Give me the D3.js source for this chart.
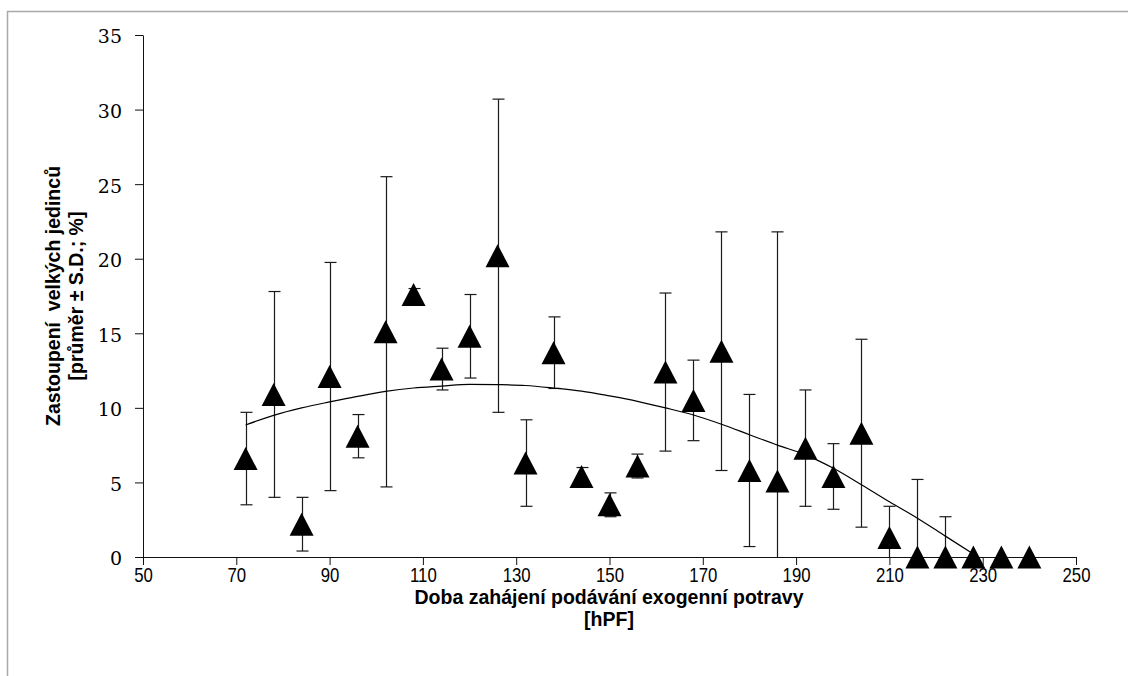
<!DOCTYPE html>
<html>
<head>
<meta charset="utf-8">
<script src="https://cdn.jsdelivr.net/npm/d3@7/dist/d3.min.js"></script>
<style>
  body { margin: 0; background: #ffffff; }
  svg text { fill: #000; }
</style>
</head>
<body>
<svg id="chart" width="1128" height="676"></svg>
<script>
// Time of first exogenous feeding [hPF]
const hours = [72, 78, 84, 90, 96, 102, 108, 114, 120, 126, 132, 138, 144, 150, 156,
               162, 168, 174, 180, 186, 192, 198, 204, 210, 216, 222, 228, 234, 240];
// Share of large individuals, mean [%]
const meanPct = [6.6, 10.9, 2.2, 12.1, 8.1, 15.1, 17.6, 12.6, 14.8, 20.2, 6.3, 13.7, 5.4, 3.5, 6.1,
                 12.4, 10.5, 13.8, 5.8, 5.1, 7.3, 5.4, 8.3, 1.3, 0, 0, 0, 0, 0];
// Standard deviation [%]
const sdPct = [3.1, 6.9, 1.8, 7.65, 1.45, 10.4, 0.4, 1.4, 2.8, 10.5, 2.9, 2.4, 0.6, 0.8, 0.8,
               5.3, 2.7, 8.0, 5.1, 16.7, 3.9, 2.2, 6.3, 2.1, 5.2, 2.7, 0, 0, 0];
// Polynomial trend line
const trendHours = [72, 78, 84, 90, 96, 102, 108, 114, 120, 126, 132, 138, 144, 150, 156,
                    162, 168, 174, 180, 186, 192, 198, 204, 210, 216, 222, 229];
const trendPct = [8.85, 9.5, 10.0, 10.4, 10.77, 11.1, 11.33, 11.46, 11.58, 11.56, 11.5, 11.33, 11.12, 10.8, 10.44,
                  10.0, 9.52, 8.9, 8.2, 7.5, 6.85, 5.95, 4.85, 3.7, 2.6, 1.4, 0];
const xTicks = [50, 70, 90, 110, 130, 150, 170, 190, 210, 230, 250];
const yTicks = [0, 5, 10, 15, 20, 25, 30, 35];

const svg = d3.select("#chart");

// outer frame
svg.append("path")
  .attr("d", "M7.5,676V11.5H1128")
  .attr("fill", "none")
  .attr("stroke", "#a9a9a9")
  .attr("stroke-width", 1.5);

const x = d3.scaleLinear().domain([50, 250]).range([143, 1076]);
const y = d3.scaleLinear().domain([0, 35]).range([557, 35]).clamp(true);

// axes
const xAxis = svg.append("g")
  .attr("transform", "translate(0,557)")
  .call(d3.axisBottom(x).tickValues(xTicks).tickSize(8).tickSizeOuter(0).tickFormat(d3.format("d")));
xAxis.selectAll("text")
  .attr("y", 25).attr("dy", null)
  .attr("transform", "scale(0.84,1)")
  .style("font-family", "'Liberation Sans', Arial, sans-serif")
  .style("font-size", "20px");

const yAxis = svg.append("g")
  .attr("transform", "translate(143,0)")
  .call(d3.axisLeft(y).tickValues(yTicks).tickSize(8).tickSizeOuter(0).tickFormat(d3.format("d")));
yAxis.selectAll("text")
  .attr("x", -21).attr("dy", "0.42em")
  .style("font-family", "'DejaVu Serif', serif")
  .style("font-size", "19px");

svg.selectAll(".domain, .tick line").attr("stroke", "#111").attr("stroke-width", 1);

// axis titles
const titleFont = "'Liberation Sans', Arial, sans-serif";
svg.append("text")
  .attr("x", 609).attr("y", 604)
  .attr("text-anchor", "middle")
  .style("font-family", titleFont).style("font-weight", "bold").style("font-size", "19.5px")
  .text("Doba zahájení podávání exogenní potravy");
svg.append("text")
  .attr("x", 609).attr("y", 626)
  .attr("text-anchor", "middle")
  .style("font-family", titleFont).style("font-weight", "bold").style("font-size", "19.5px")
  .text("[hPF]");

const yTitle = svg.append("text")
  .attr("transform", "translate(60,296) rotate(-90)")
  .attr("text-anchor", "middle")
  .style("font-family", titleFont).style("font-weight", "bold").style("font-size", "19.5px")
  .style("white-space", "pre");
yTitle.append("tspan").attr("x", 0).attr("y", 0).text("Zastoupení  velkých jedinců");
yTitle.append("tspan").attr("x", 0).attr("y", 23).text("[průměr ± S.D.; %]");

const data = hours.map((h, i) => ({ h, m: meanPct[i], sd: sdPct[i] }));

// error bars
const capHalf = 6;
const bars = svg.append("g").attr("stroke", "#1a1a1a").attr("stroke-width", 1.2).attr("fill", "none");
data.filter(d => d.sd > 0).forEach(d => {
  const cx = Math.round(x(d.h)) + 0.5;
  const top = y(d.m + d.sd);
  const bot = y(d.m - d.sd);
  bars.append("line").attr("x1", cx).attr("x2", cx).attr("y1", top).attr("y2", bot);
  bars.append("line").attr("x1", cx - capHalf).attr("x2", cx + capHalf).attr("y1", top).attr("y2", top);
  if (d.m - d.sd >= 0) {
    bars.append("line").attr("x1", cx - capHalf).attr("x2", cx + capHalf).attr("y1", bot).attr("y2", bot);
  }
});

// trend line
const trend = trendHours.map((h, i) => [h, trendPct[i]]);
svg.append("path")
  .datum(trend)
  .attr("fill", "none")
  .attr("stroke", "#000")
  .attr("stroke-width", 1.2)
  .attr("d", d3.line().x(d => x(d[0])).y(d => y(d[1])).curve(d3.curveMonotoneX));

// triangle markers
svg.append("g").selectAll("path.marker")
  .data(data)
  .join("path")
  .attr("class", "marker")
  .attr("transform", d => `translate(${x(d.h)},${y(d.m)})`)
  .attr("d", "M0,-11.5L12,11.5L-12,11.5Z")
  .attr("fill", "#000");
</script>
</body>
</html>
